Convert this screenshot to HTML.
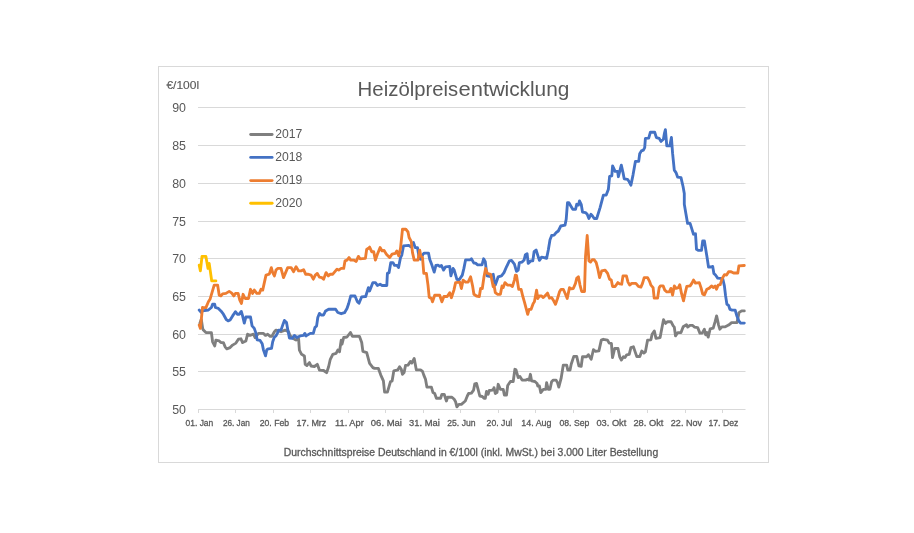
<!DOCTYPE html>
<html lang="de"><head><meta charset="utf-8"><title>Heizölpreisentwicklung</title>
<style>html,body{margin:0;padding:0;background:#fff;}body{width:914px;height:533px;overflow:hidden;}svg{display:block;}text{font-family:"Liberation Sans",sans-serif;fill:#595959;}.b{stroke:#595959;stroke-width:0.3px;}.c{stroke:#595959;stroke-width:0.12px;}</style></head><body>
<svg width="914" height="533" viewBox="0 0 914 533">
<rect x="0" y="0" width="914" height="533" fill="#ffffff"/>
<rect x="158.5" y="66.5" width="610" height="396" fill="#ffffff" stroke="#D9D9D9" stroke-width="1"/>
<line x1="198" y1="409.50" x2="745.5" y2="409.50" stroke="#D9D9D9" stroke-width="1"/>
<line x1="198" y1="371.50" x2="745.5" y2="371.50" stroke="#D9D9D9" stroke-width="1"/>
<line x1="198" y1="334.50" x2="745.5" y2="334.50" stroke="#D9D9D9" stroke-width="1"/>
<line x1="198" y1="296.50" x2="745.5" y2="296.50" stroke="#D9D9D9" stroke-width="1"/>
<line x1="198" y1="258.50" x2="745.5" y2="258.50" stroke="#D9D9D9" stroke-width="1"/>
<line x1="198" y1="221.50" x2="745.5" y2="221.50" stroke="#D9D9D9" stroke-width="1"/>
<line x1="198" y1="183.50" x2="745.5" y2="183.50" stroke="#D9D9D9" stroke-width="1"/>
<line x1="198" y1="145.50" x2="745.5" y2="145.50" stroke="#D9D9D9" stroke-width="1"/>
<line x1="198" y1="107.50" x2="745.5" y2="107.50" stroke="#D9D9D9" stroke-width="1"/>
<line x1="198.50" y1="409" x2="198.50" y2="413" stroke="#D9D9D9" stroke-width="1"/>
<line x1="235.50" y1="409" x2="235.50" y2="413" stroke="#D9D9D9" stroke-width="1"/>
<line x1="273.50" y1="409" x2="273.50" y2="413" stroke="#D9D9D9" stroke-width="1"/>
<line x1="310.50" y1="409" x2="310.50" y2="413" stroke="#D9D9D9" stroke-width="1"/>
<line x1="348.50" y1="409" x2="348.50" y2="413" stroke="#D9D9D9" stroke-width="1"/>
<line x1="385.50" y1="409" x2="385.50" y2="413" stroke="#D9D9D9" stroke-width="1"/>
<line x1="423.50" y1="409" x2="423.50" y2="413" stroke="#D9D9D9" stroke-width="1"/>
<line x1="460.50" y1="409" x2="460.50" y2="413" stroke="#D9D9D9" stroke-width="1"/>
<line x1="498.50" y1="409" x2="498.50" y2="413" stroke="#D9D9D9" stroke-width="1"/>
<line x1="535.50" y1="409" x2="535.50" y2="413" stroke="#D9D9D9" stroke-width="1"/>
<line x1="573.50" y1="409" x2="573.50" y2="413" stroke="#D9D9D9" stroke-width="1"/>
<line x1="610.50" y1="409" x2="610.50" y2="413" stroke="#D9D9D9" stroke-width="1"/>
<line x1="647.50" y1="409" x2="647.50" y2="413" stroke="#D9D9D9" stroke-width="1"/>
<line x1="685.50" y1="409" x2="685.50" y2="413" stroke="#D9D9D9" stroke-width="1"/>
<line x1="722.50" y1="409" x2="722.50" y2="413" stroke="#D9D9D9" stroke-width="1"/>
<text x="186" y="413.90" font-size="12.2" text-anchor="end" textLength="13.8" lengthAdjust="spacingAndGlyphs">50</text>
<text x="186" y="375.90" font-size="12.2" text-anchor="end" textLength="13.8" lengthAdjust="spacingAndGlyphs">55</text>
<text x="186" y="338.90" font-size="12.2" text-anchor="end" textLength="13.8" lengthAdjust="spacingAndGlyphs">60</text>
<text x="186" y="300.90" font-size="12.2" text-anchor="end" textLength="13.8" lengthAdjust="spacingAndGlyphs">65</text>
<text x="186" y="262.90" font-size="12.2" text-anchor="end" textLength="13.8" lengthAdjust="spacingAndGlyphs">70</text>
<text x="186" y="225.90" font-size="12.2" text-anchor="end" textLength="13.8" lengthAdjust="spacingAndGlyphs">75</text>
<text x="186" y="187.90" font-size="12.2" text-anchor="end" textLength="13.8" lengthAdjust="spacingAndGlyphs">80</text>
<text x="186" y="149.90" font-size="12.2" text-anchor="end" textLength="13.8" lengthAdjust="spacingAndGlyphs">85</text>
<text x="186" y="111.90" font-size="12.2" text-anchor="end" textLength="13.8" lengthAdjust="spacingAndGlyphs">90</text>
<text class="b" x="185.50" y="426" font-size="9.4" textLength="27.8" lengthAdjust="spacingAndGlyphs">01. Jan</text>
<text class="b" x="222.90" y="426" font-size="9.4" textLength="27.0" lengthAdjust="spacingAndGlyphs">26. Jan</text>
<text class="b" x="259.70" y="426" font-size="9.4" textLength="29.4" lengthAdjust="spacingAndGlyphs">20. Feb</text>
<text class="b" x="296.45" y="426" font-size="9.4" textLength="29.9" lengthAdjust="spacingAndGlyphs">17. Mrz</text>
<text class="b" x="335.05" y="426" font-size="9.4" textLength="28.7" lengthAdjust="spacingAndGlyphs">11. Apr</text>
<text class="b" x="370.85" y="426" font-size="9.4" textLength="31.1" lengthAdjust="spacingAndGlyphs">06. Mai</text>
<text class="b" x="409.05" y="426" font-size="9.4" textLength="30.7" lengthAdjust="spacingAndGlyphs">31. Mai</text>
<text class="b" x="447.25" y="426" font-size="9.4" textLength="28.3" lengthAdjust="spacingAndGlyphs">25. Jun</text>
<text class="b" x="486.60" y="426" font-size="9.4" textLength="25.6" lengthAdjust="spacingAndGlyphs">20. Jul</text>
<text class="b" x="521.25" y="426" font-size="9.4" textLength="30.3" lengthAdjust="spacingAndGlyphs">14. Aug</text>
<text class="b" x="559.45" y="426" font-size="9.4" textLength="29.9" lengthAdjust="spacingAndGlyphs">08. Sep</text>
<text class="b" x="596.45" y="426" font-size="9.4" textLength="29.9" lengthAdjust="spacingAndGlyphs">03. Okt</text>
<text class="b" x="633.40" y="426" font-size="9.4" textLength="30.0" lengthAdjust="spacingAndGlyphs">28. Okt</text>
<text class="b" x="670.85" y="426" font-size="9.4" textLength="31.1" lengthAdjust="spacingAndGlyphs">22. Nov</text>
<text class="b" x="708.45" y="426" font-size="9.4" textLength="29.9" lengthAdjust="spacingAndGlyphs">17. Dez</text>
<text class="c" x="166.4" y="88.9" font-size="10.6" textLength="32.7" lengthAdjust="spacingAndGlyphs">€/100l</text>
<text y="95.8" font-size="20.5"><tspan x="357.6" textLength="56.7" lengthAdjust="spacingAndGlyphs">Heizöl</tspan><tspan x="414.2" textLength="43.8" lengthAdjust="spacingAndGlyphs">preis</tspan><tspan x="458.5" textLength="46.5" lengthAdjust="spacingAndGlyphs">entw</tspan><tspan x="504.5" textLength="64.9" lengthAdjust="spacingAndGlyphs">icklung</tspan></text>
<text class="b" x="283.7" y="456.2" font-size="10" textLength="374.5" lengthAdjust="spacingAndGlyphs">Durchschnittspreise Deutschland in €/100l (inkl. MwSt.) bei 3.000 Liter Bestellung</text>
<line x1="250.7" y1="134.5" x2="272.1" y2="134.5" stroke="#7F7F7F" stroke-width="2.9" stroke-linecap="round"/>
<text x="275.3" y="138.1" font-size="12.2" textLength="27.1" lengthAdjust="spacingAndGlyphs">2017</text>
<line x1="250.7" y1="157.4" x2="272.1" y2="157.4" stroke="#4472C4" stroke-width="2.9" stroke-linecap="round"/>
<text x="275.3" y="161.0" font-size="12.2" textLength="27.1" lengthAdjust="spacingAndGlyphs">2018</text>
<line x1="250.7" y1="180.6" x2="272.1" y2="180.6" stroke="#ED7D31" stroke-width="2.9" stroke-linecap="round"/>
<text x="275.3" y="184.2" font-size="12.2" textLength="27.1" lengthAdjust="spacingAndGlyphs">2019</text>
<line x1="250.7" y1="203.2" x2="272.1" y2="203.2" stroke="#FFC000" stroke-width="2.9" stroke-linecap="round"/>
<text x="275.3" y="206.8" font-size="12.2" textLength="27.1" lengthAdjust="spacingAndGlyphs">2020</text>
<polyline fill="none" stroke="#7F7F7F" stroke-width="2.85" stroke-linejoin="round" stroke-linecap="round" points="199.9,323.2 201.3,319.3 202.7,328.6 203.4,330.1 205.9,332.6 211.4,332.6 212.6,341.8 214.7,345.9 215.9,340.1 219.2,340.9 220.9,342.6 223.4,342.6 225.1,346.8 226.8,348.8 230.1,347.6 232.6,345.1 235.9,343.1 238.4,339.2 240.9,338.8 242.6,342.6 245.9,340.9 247.6,334.2 250.1,335.4 253.5,334.2 255.1,337.6 258.5,333.4 263.5,333.4 265.5,335.4 267.7,334.2 270.2,336.4 271.8,336.4 274.4,331.7 276.0,330.1 281.0,331.7 285.2,330.1 288.6,331.7 290.2,335.9 292.2,337.6 294.4,339.2 296.1,340.1 298.6,338.8 299.4,350.1 301.6,354.3 304.4,355.9 305.2,364.3 306.9,365.5 309.4,362.6 311.1,366.0 314.4,366.5 317.3,364.3 319.4,370.1 323.6,370.5 326.6,372.7 328.6,366.8 330.3,359.3 332.8,354.3 336.1,353.4 337.8,350.1 339.5,351.8 341.2,340.1 342.0,344.2 343.7,337.5 347.0,337.0 350.4,332.5 352.4,336.4 359.5,336.4 361.7,342.5 362.9,351.4 366.7,352.6 369.6,363.4 372.9,367.6 374.6,368.4 378.4,368.4 380.8,375.1 383.4,380.9 384.6,392.1 387.4,392.1 390.4,381.8 392.1,380.9 393.8,370.9 397.9,369.8 399.6,366.8 401.3,369.3 402.5,374.3 404.1,372.6 405.5,365.4 408.0,365.1 410.5,361.4 411.8,363.1 414.2,358.4 416.3,369.8 420.5,369.8 422.5,371.4 423.8,375.1 425.5,379.3 426.9,387.1 431.4,387.1 433.0,392.6 434.7,393.5 436.4,398.2 440.6,398.2 441.9,394.3 444.2,394.3 446.4,401.0 447.6,397.2 451.9,397.2 454.2,399.3 455.6,401.8 456.9,406.8 458.9,404.3 461.4,404.3 465.3,401.0 467.3,396.0 468.6,393.5 471.4,393.1 473.6,390.1 474.8,383.8 476.5,383.5 478.1,389.3 479.8,396.0 482.3,396.5 484.0,398.2 485.3,398.2 486.5,391.5 488.1,394.3 489.3,390.5 492.3,390.1 494.0,388.5 494.0,387.6 495.3,393.5 497.0,392.6 498.2,384.3 500.4,389.3 503.2,389.3 504.4,395.1 506.5,395.1 507.7,385.5 510.4,381.5 513.2,381.5 514.9,369.3 516.0,369.8 518.2,377.6 519.9,376.4 522.1,380.1 525.7,380.1 527.4,379.3 529.1,380.1 530.4,374.3 531.6,380.9 534.9,381.5 537.1,383.5 537.8,386.0 539.4,386.0 540.8,392.6 543.3,389.3 545.8,389.3 546.6,382.6 548.3,389.3 550.0,389.3 551.6,381.8 553.3,380.1 556.1,380.1 557.5,382.6 558.8,387.1 561.1,378.4 563.3,365.1 566.7,365.1 567.8,370.1 570.0,370.1 571.2,364.2 573.8,356.4 576.7,356.4 578.9,365.9 581.2,366.4 582.5,356.7 586.7,356.7 588.4,354.7 591.2,359.2 593.4,349.7 595.5,351.4 598.9,350.9 601.3,340.1 603.3,339.3 607.5,340.1 609.2,343.1 611.4,343.4 612.5,357.6 614.7,348.5 618.0,348.5 619.7,356.8 621.4,360.1 623.4,356.8 625.0,357.6 626.7,354.8 629.2,354.3 630.9,347.6 633.4,346.8 635.4,352.6 636.8,356.5 639.8,356.5 641.8,351.0 643.8,353.1 645.4,351.8 647.6,340.1 650.9,339.8 652.1,334.3 654.3,330.9 656.0,338.4 660.1,337.6 661.8,328.4 663.5,319.7 665.5,323.4 667.6,321.7 671.0,321.7 673.2,325.9 674.3,327.1 675.5,335.9 677.7,332.6 681.0,332.6 683.2,326.8 686.5,324.7 687.7,327.1 689.9,325.4 692.7,325.4 694.4,327.1 697.7,327.6 699.9,333.1 702.2,333.1 704.4,329.2 705.6,334.8 706.9,332.6 708.2,337.1 710.2,328.8 713.2,328.1 715.2,321.4 716.6,315.9 718.6,325.1 719.9,329.2 721.9,326.8 725.3,326.8 728.6,325.1 731.6,322.6 737.0,322.6 739.0,312.6 741.6,310.9 744.3,310.9"/>
<polyline fill="none" stroke="#4472C4" stroke-width="2.85" stroke-linejoin="round" stroke-linecap="round" points="199.2,310.0 201.4,312.5 202.5,310.9 208.4,310.0 211.4,307.5 212.6,304.2 214.7,304.2 215.4,307.5 218.4,308.4 220.9,310.9 223.4,314.2 226.4,319.7 228.1,320.9 230.1,320.0 232.6,315.9 235.4,311.7 237.3,314.2 239.3,314.2 241.3,311.4 242.6,315.9 244.3,323.1 245.9,317.0 250.5,317.0 252.1,325.9 254.3,328.4 256.0,333.4 257.1,339.8 260.1,340.4 262.2,343.8 263.5,350.1 265.5,355.9 266.8,349.8 268.5,348.8 271.5,348.4 272.7,341.8 274.4,337.1 276.0,335.9 277.7,332.6 278.5,330.1 281.0,330.1 282.7,325.1 284.4,320.4 286.5,322.6 287.7,329.2 289.4,338.1 292.2,338.4 294.4,335.4 296.9,337.6 300.2,335.9 303.6,335.4 304.9,333.4 306.1,335.9 310.3,333.4 313.3,333.4 314.9,327.6 316.6,325.9 317.8,317.5 319.4,313.4 321.1,315.0 323.6,315.0 325.6,310.9 328.6,309.2 335.6,309.2 337.8,312.5 341.2,313.7 344.5,312.7 347.0,308.5 348.7,303.5 350.7,296.0 355.0,296.0 357.4,301.8 359.0,303.2 361.7,296.8 365.7,296.5 368.4,287.6 369.6,291.0 372.9,282.6 375.4,282.6 377.4,285.5 380.1,284.3 382.1,285.5 386.8,285.5 387.4,273.4 389.1,272.6 390.8,262.6 392.9,262.6 394.6,265.4 397.1,265.4 398.5,267.6 400.5,257.6 401.8,255.1 403.5,245.9 408.8,245.4 410.8,246.7 412.1,245.1 413.5,242.6 415.2,247.6 417.5,247.6 419.2,258.4 420.8,259.2 423.0,254.2 424.2,253.1 428.5,253.1 429.7,259.2 431.9,265.1 434.2,272.1 435.9,265.4 438.0,265.1 439.7,266.4 441.4,265.4 443.6,270.1 445.6,266.8 449.7,266.4 450.9,275.9 453.1,268.4 454.2,270.1 456.9,279.3 459.2,279.8 462.3,275.1 463.9,268.4 465.6,259.8 470.3,259.8 471.4,258.8 473.9,263.1 475.6,263.1 477.6,264.8 482.0,264.8 483.6,258.8 485.3,261.8 487.0,275.9 490.7,276.5 493.2,274.3 494.0,279.3 495.3,285.1 498.2,276.8 501.5,275.9 504.0,272.6 506.5,266.8 509.4,260.9 511.5,260.4 514.4,264.2 516.5,271.4 518.2,270.1 519.4,262.6 522.1,262.1 524.1,260.1 525.4,254.7 527.1,253.7 528.2,263.4 530.8,260.9 532.8,260.9 534.1,251.7 536.1,250.0 537.8,255.4 539.4,260.4 541.6,257.1 544.1,257.6 546.6,258.4 548.3,250.0 550.0,239.7 551.6,235.8 551.6,235.5 554.1,235.2 556.1,232.7 558.3,231.0 560.8,226.0 565.0,225.2 566.2,219.3 567.5,202.6 568.8,202.6 570.8,205.9 572.8,209.3 575.5,209.3 576.7,204.3 578.4,205.1 579.5,200.9 581.2,204.3 582.5,212.1 585.5,212.6 587.2,214.3 588.9,218.5 590.9,214.3 592.5,216.0 594.2,218.5 596.7,218.5 600.1,207.6 603.4,195.1 606.2,195.1 608.4,189.2 609.6,176.4 611.8,175.9 612.6,165.9 615.1,171.4 617.6,171.4 618.4,176.7 621.3,165.1 623.0,172.6 624.2,178.8 627.5,179.3 629.2,181.8 630.9,185.2 633.0,175.1 635.4,161.4 638.7,161.4 639.7,153.8 641.4,150.9 643.4,150.1 644.7,147.6 645.4,138.4 648.7,138.1 650.4,132.2 654.7,132.2 656.4,137.6 659.2,138.4 660.9,141.4 663.4,139.2 664.4,133.4 665.4,129.7 666.8,145.9 669.8,145.9 671.4,137.4 672.6,153.4 674.3,170.1 676.0,172.6 677.6,177.1 681.0,177.6 683.1,186.8 684.3,193.5 684.3,204.2 686.0,214.2 687.6,223.4 690.1,223.4 692.2,230.1 693.5,234.2 695.5,233.8 696.5,249.3 698.5,250.4 701.5,250.4 702.7,240.9 704.4,240.9 706.0,250.9 707.2,258.3 708.5,267.0 711.0,267.0 712.7,266.4 713.9,273.4 715.5,275.0 717.7,278.1 720.2,278.4 722.7,278.7 724.4,285.9 725.6,295.9 726.9,304.3 728.6,305.4 729.9,309.3 732.2,310.1 735.2,310.1 736.9,316.0 738.9,321.0 740.6,323.1 744.3,323.1"/>
<polyline fill="none" stroke="#ED7D31" stroke-width="2.85" stroke-linejoin="round" stroke-linecap="round" points="199.2,325.1 200.4,328.4 202.5,307.5 203.4,307.6 205.9,307.6 208.4,301.8 210.0,299.3 214.2,285.1 217.6,285.1 219.2,295.1 220.9,295.9 222.6,293.8 225.9,293.4 229.2,291.4 231.8,293.1 233.8,295.9 235.4,293.4 238.1,293.4 239.8,300.1 241.4,303.5 243.1,294.3 245.1,298.5 248.5,298.5 250.5,289.3 252.6,293.4 254.3,290.1 256.8,293.4 259.3,293.4 261.0,289.3 262.7,290.1 266.0,275.1 269.3,274.2 271.3,267.6 272.7,272.6 274.4,275.9 276.0,270.1 277.7,268.4 281.0,268.4 283.5,277.6 287.7,267.6 291.1,267.6 293.6,271.7 296.1,266.7 298.6,270.9 301.1,270.9 303.6,269.7 305.6,274.2 307.8,274.2 311.1,275.1 313.3,279.2 315.3,275.1 317.3,273.4 319.4,277.1 321.9,277.6 323.6,279.2 326.1,272.6 328.3,275.9 330.3,274.2 332.8,274.2 337.0,269.2 338.7,270.1 341.2,268.4 342.0,268.4 343.7,268.4 345.0,260.9 347.0,260.1 349.0,257.6 350.7,260.1 353.7,260.1 356.2,261.4 358.4,256.4 360.0,258.8 365.4,258.4 366.7,249.2 368.4,248.4 369.6,247.1 371.7,251.7 373.7,251.7 375.4,260.1 377.4,254.2 380.1,247.6 382.1,250.9 384.1,250.4 385.8,253.4 387.1,255.1 389.6,257.6 392.1,254.2 395.4,253.4 396.8,250.9 398.8,255.9 400.5,248.4 402.5,229.2 405.8,229.2 408.0,232.0 409.1,237.5 411.3,241.7 412.5,252.6 414.2,260.1 418.0,260.1 419.7,250.1 420.8,255.9 422.5,257.6 423.8,273.4 426.4,273.4 428.0,285.1 429.2,297.2 431.4,298.5 432.5,301.8 434.7,295.2 439.7,295.2 441.9,301.8 443.9,296.5 447.2,296.5 449.7,292.7 451.4,297.7 453.9,290.1 455.6,282.6 459.8,282.1 461.4,288.5 463.1,280.1 465.6,282.1 468.1,282.1 470.6,276.8 472.6,286.0 473.9,294.3 476.5,296.0 479.3,296.5 480.6,288.5 482.3,288.5 484.0,276.8 485.6,268.4 487.3,273.4 490.7,274.3 493.2,286.8 494.0,285.1 495.3,292.6 497.7,294.3 500.4,294.3 502.0,285.9 503.2,287.6 504.9,282.6 507.4,285.1 510.4,285.1 512.4,286.5 514.4,280.1 515.4,275.1 516.5,275.4 518.7,289.3 521.1,289.3 522.7,296.0 524.4,301.8 526.6,310.2 527.7,314.4 529.1,309.3 531.1,309.3 533.2,303.5 534.4,301.8 536.6,290.1 537.8,298.5 539.4,296.0 541.6,296.0 543.3,297.6 544.9,296.0 547.5,293.1 549.5,298.1 551.6,297.6 553.8,301.0 555.5,304.3 557.5,298.5 559.5,291.8 561.1,289.3 563.3,289.3 565.5,294.3 567.2,298.5 569.5,287.6 571.2,288.8 573.3,288.5 575.5,283.4 576.7,278.4 578.4,276.8 580.0,285.1 581.7,291.5 584.5,291.5 585.5,256.7 587.2,235.5 588.9,260.9 590.5,262.1 592.2,259.7 594.2,259.7 596.2,262.6 597.9,269.2 599.6,277.6 601.7,270.9 605.1,270.1 607.6,273.4 609.6,279.3 611.2,279.8 612.6,286.5 615.1,286.5 617.9,282.6 619.6,283.8 621.7,284.2 623.0,275.9 626.4,275.9 628.0,282.1 629.7,285.1 631.7,283.4 635.9,283.4 638.4,286.4 640.9,287.1 642.5,283.4 644.2,277.6 647.6,277.6 649.7,281.7 650.9,285.1 653.1,287.6 654.2,298.1 657.6,298.1 659.2,287.6 660.4,285.9 663.1,285.9 664.8,290.1 666.8,291.8 669.3,291.8 670.9,288.4 672.6,295.1 674.3,285.9 676.0,288.4 678.5,287.6 679.8,284.7 681.5,293.4 683.5,300.9 685.1,293.4 686.8,286.4 690.1,285.9 691.8,283.4 693.5,280.1 695.5,283.1 699.3,282.6 701.0,287.6 702.7,294.2 704.4,294.8 706.9,289.2 709.4,288.1 711.5,285.9 713.5,287.6 715.2,285.9 716.5,289.2 718.2,285.1 720.2,284.7 722.2,278.4 724.4,274.7 726.6,275.0 728.6,271.7 731.1,271.7 733.6,273.0 737.8,273.0 738.9,265.9 744.3,265.5"/>
<polyline fill="none" stroke="#FFC000" stroke-width="2.85" stroke-linejoin="round" stroke-linecap="round" points="199.2,265.1 200.4,270.9 202.0,256.4 205.9,256.4 208.0,268.4 209.2,263.4 211.7,280.9 215.9,280.9"/>
</svg></body></html>
